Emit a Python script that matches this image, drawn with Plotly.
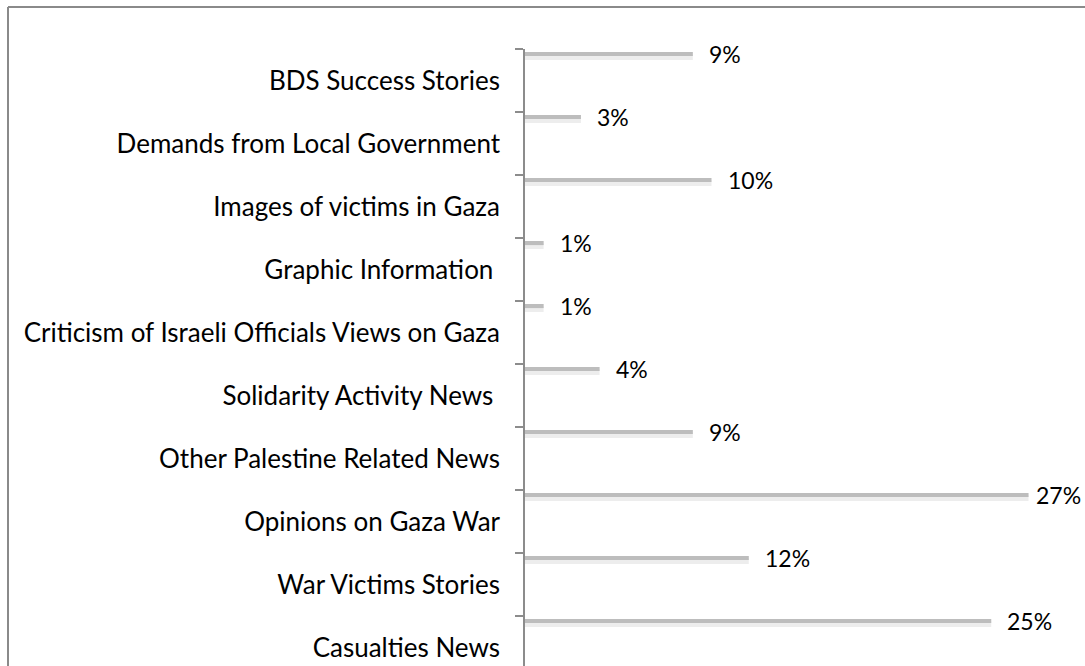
import plotly.graph_objects as go

categories = [
    "Casualties News",
    "War Victims Stories",
    "Opinions on Gaza War",
    "Other Palestine Related News",
    "Solidarity Activity News\u00a0",
    "Criticism of Israeli Officials Views on Gaza",
    "Graphic Information\u00a0",
    "Images of victims in Gaza",
    "Demands from Local Government",
    "BDS Success Stories",
]
values = [25, 12, 27, 9, 4, 1, 1, 10, 3, 9]
value_labels = [f"{v}%" for v in values]

W, H = 1085, 666
FONT = "Lato"
idx = list(range(len(categories)))
bar_pos = [i + 0.42 for i in idx]

fig = go.Figure()
# soft shadow beneath each bar
fig.add_trace(go.Bar(
    x=values, y=[p - 0.05 for p in bar_pos], orientation="h", width=0.09,
    marker=dict(color="rgba(0,0,0,0.07)", line=dict(width=0)),
    hoverinfo="skip", showlegend=False,
))
fig.add_trace(go.Bar(
    x=values, y=bar_pos, orientation="h", width=0.065,
    marker=dict(color="#bdbdbd", line=dict(width=0)),
    showlegend=False,
))

vmax = max(values)
for v, p, t in zip(values, bar_pos, value_labels):
    fig.add_annotation(x=v, y=p, text=t, xanchor="left", yanchor="middle",
                       xshift=5 if v == vmax else 14, showarrow=False,
                       font=dict(family=FONT, size=23, color="#000000"))

x0 = 525
fig.update_layout(
    width=W, height=H,
    margin=dict(l=0, r=0, t=0, b=0),
    paper_bgcolor="white", plot_bgcolor="white",
    barmode="overlay",
    xaxis=dict(domain=[x0 / W, 1], range=[0, (W - x0) / 18.65],
               visible=False, showgrid=False, zeroline=False),
    yaxis=dict(domain=[0, 1 - 49 / H], range=[9.5 - (H - 49) / 63.0, 9.5],
               tickvals=idx, ticktext=categories, ticks="", ticklabelstandoff=18,
               showgrid=False, zeroline=False,
               showline=True, linecolor="#8c8c8c", linewidth=1.5,
               tickfont=dict(family=FONT, size=26, color="#000000"),
               minor=dict(tickvals=[i + 0.5 for i in idx], ticks="outside",
                          ticklen=8, tickcolor="#8c8c8c", tickwidth=1.5,
                          showgrid=False)),
    font=dict(family=FONT),
)
# outer frame (top and left edges of the picture border)
fig.add_shape(type="line", xref="paper", yref="paper",
              x0=8 / W, x1=1, y0=1 - 7 / H, y1=1 - 7 / H,
              line=dict(color="#8a8a8a", width=2))
fig.add_shape(type="line", xref="paper", yref="paper",
              x0=8 / W, x1=8 / W, y0=1 - 7 / H, y1=0,
              line=dict(color="#8a8a8a", width=2))

fig.write_html("out.html", config={"displayModeBar": False},
               post_script="document.body.style.margin='0px';document.body.style.overflow='hidden';")
